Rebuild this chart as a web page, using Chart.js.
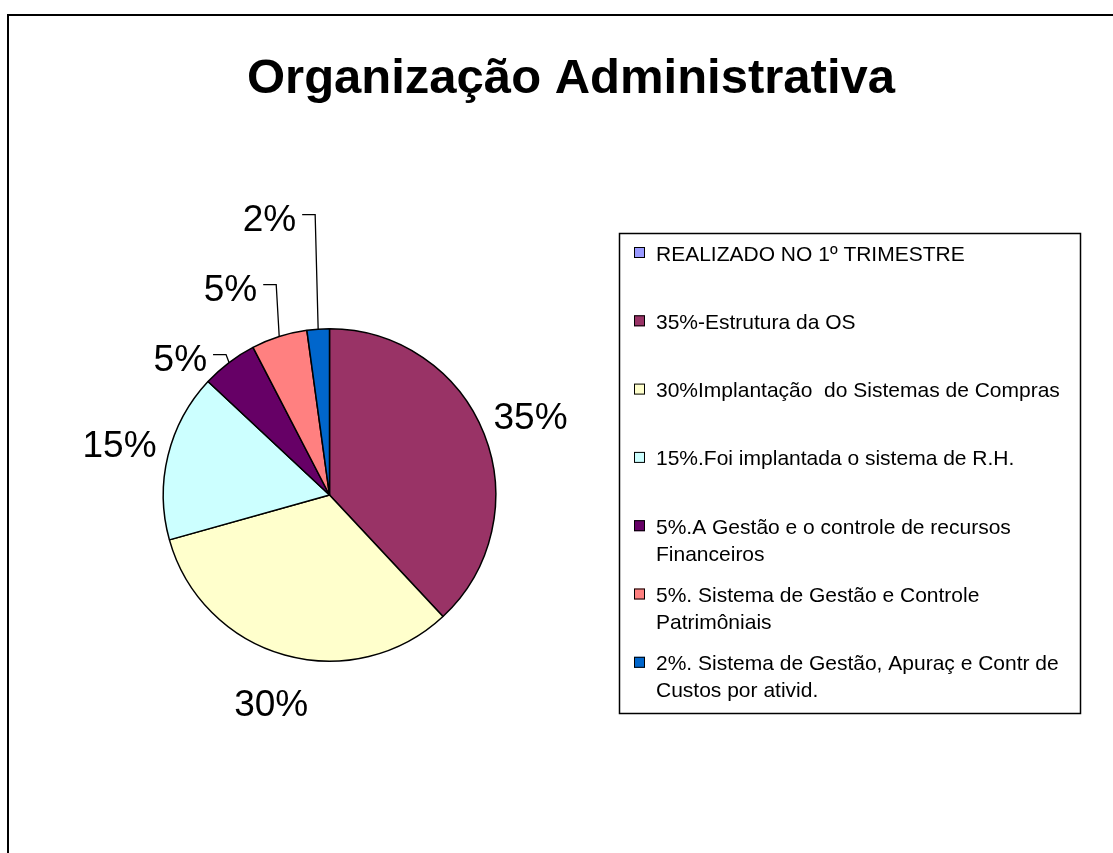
<!DOCTYPE html>
<html>
<head>
<meta charset="utf-8">
<script src="https://cdn.jsdelivr.net/npm/chart.js@4.4.0/dist/chart.umd.min.js"></script>
<style>
  body { margin: 0; background: #fff; }
  canvas { display: block; }
</style>
</head>
<body>
<canvas id="pieChart" width="1113" height="853"></canvas>
<script>
// ---- DATA ----
const chartTitle = 'Organização Administrativa';
const categories = [
    'REALIZADO NO 1º TRIMESTRE',
    '35%-Estrutura da OS',
    '30%Implantação  do Sistemas de Compras',
    '15%.Foi implantada o sistema de R.H.',
    ['5%.A Gestão e o controle de recursos', 'Financeiros'],
    ['5%. Sistema de Gestão e Controle', 'Patrimôniais'],
    ['2%. Sistema de Gestão, Apuraç e Contr de', 'Custos por ativid.']
];
const shares = [0, 35, 30, 15, 5, 5, 2];
const sliceColors = ['#9999FF', '#993366', '#FFFFCC', '#CCFFFF', '#660066', '#FF8080', '#0066CC'];

const FONT = '"Liberation Sans", Arial, sans-serif';

// ---- DECORATION: frame, title, legend, data labels ----
const decorPlugin = {
    id: 'decor',
    afterDraw(chart) {
        const ctx = chart.ctx;
        ctx.save();

        // outer frame (only left and top edges fall inside the picture)
        ctx.strokeStyle = '#000';
        ctx.lineWidth = 2;
        ctx.strokeRect(8, 15, 1300, 1000);

        // title
        ctx.fillStyle = '#000';
        ctx.font = 'bold 49px ' + FONT;
        ctx.textAlign = 'center';
        ctx.textBaseline = 'alphabetic';
        ctx.fillText(chartTitle, 571, 93);

        // legend box
        ctx.lineWidth = 1.5;
        ctx.strokeRect(619.5, 233.5, 461, 480);
        ctx.font = '21px ' + FONT;
        ctx.textAlign = 'left';
        const ds = chart.data.datasets[0];
        chart.data.labels.forEach((label, i) => {
            const cy = 253 + i * 68.3;
            ctx.fillStyle = ds.backgroundColor[i];
            ctx.fillRect(634, cy - 6, 11, 11);
            ctx.lineWidth = 1;
            ctx.strokeStyle = '#000';
            ctx.strokeRect(634.5, cy - 5.5, 10, 10);
            ctx.fillStyle = '#000';
            const lines = Array.isArray(label) ? label : [label];
            lines.forEach((ln, k) => ctx.fillText(ln, 656, cy + 7.5 + k * 27));
        });

        // data labels
        const total = shares.reduce((a, b) => a + b, 0);
        const meta = chart.getDatasetMeta(0);
        const size = 37;
        ctx.font = size + 'px ' + FONT;
        ctx.strokeStyle = '#000';
        ctx.lineWidth = 1.3;
        let prevElbowY = Infinity;
        meta.data.forEach((arc, i) => {
            if (!shares[i]) return;
            const p = arc.getProps(['x', 'y', 'startAngle', 'endAngle', 'outerRadius'], true);
            const mid = (p.startAngle + p.endAngle) / 2;
            const text = shares[i] + '%';
            if (shares[i] / total >= 0.1) {
                const d = p.outerRadius * 1.3;
                ctx.textAlign = 'center';
                ctx.fillText(text, p.x + d * Math.cos(mid), p.y + d * Math.sin(mid) + size * 0.36);
            } else {
                const ex = p.x + p.outerRadius * Math.cos(mid);
                const ey = p.y + p.outerRadius * Math.sin(mid);
                const elbowY = Math.min(ey - 8, prevElbowY - 70);
                const elbowX = ex - 3;
                prevElbowY = elbowY;
                ctx.beginPath();
                ctx.moveTo(ex, ey);
                ctx.lineTo(elbowX, elbowY);
                ctx.lineTo(elbowX - 13, elbowY);
                ctx.stroke();
                ctx.textAlign = 'right';
                ctx.fillText(text, elbowX - 19, elbowY + 3 + size * 0.36);
            }
        });

        ctx.restore();
    }
};

new Chart(document.getElementById('pieChart'), {
    type: 'pie',
    data: {
        labels: categories,
        datasets: [{
            data: shares,
            backgroundColor: sliceColors,
            borderColor: '#000',
            borderWidth: 1.5
        }]
    },
    options: {
        responsive: false,
        animation: false,
        layout: { padding: { left: 162, right: 616, top: 328, bottom: 191 } },
        plugins: {
            legend: { display: false },
            tooltip: { enabled: false },
            title: { display: false }
        }
    },
    plugins: [decorPlugin]
});
</script>
</body>
</html>
